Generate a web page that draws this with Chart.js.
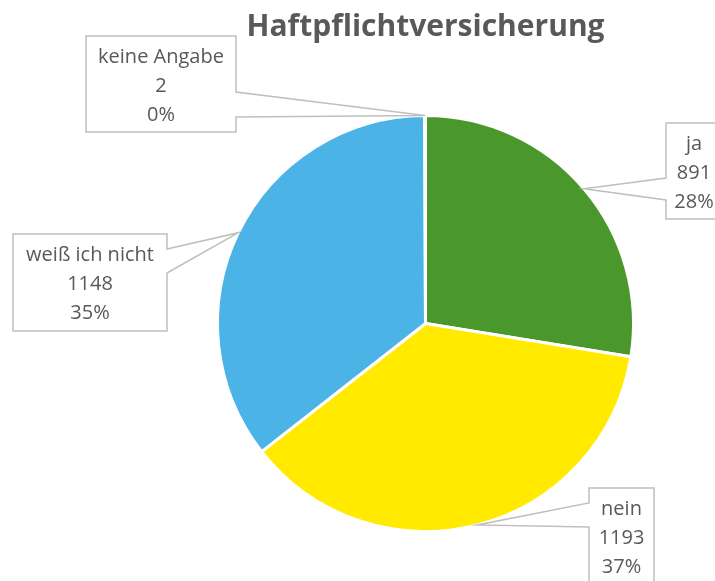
<!DOCTYPE html>
<html>
<head>
<meta charset="utf-8">
<script src="https://cdn.jsdelivr.net/npm/chart.js@4.4.0/dist/chart.umd.min.js"></script>
<style>
html,body{margin:0;padding:0;background:#fff;}
#wrap{width:715px;height:581px;position:relative;}
</style>
</head>
<body>
<div id="wrap"><canvas id="c" width="715" height="581"></canvas></div>
<script>
const title = 'Haftpflichtversicherung';
const categories = ['ja', 'nein', 'weiß ich nicht', 'keine Angabe'];
const values = [891, 1193, 1148, 2];
const sliceColors = ['#4a982c', '#ffea00', '#4cb3e6', '#a5a5a5'];

// callout box placement (style only)
const calloutBoxes = [
  {x: 666, y: 123, w: 56, h: 96, side: 'left', a1: 178, a2: 200},
  {x: 589, y: 488, w: 65, h: 110, side: 'left', a1: 503, a2: 527},
  {x: 13, y: 234, w: 154, h: 97, side: 'right', a1: 249, a2: 273},
  {x: 86, y: 36, w: 150, h: 96, side: 'right', a1: 92, a2: 117}
];

const calloutPlugin = {
  id: 'callouts',
  afterDatasetsDraw(chart) {
    const ctx = chart.ctx;
    const meta = chart.getDatasetMeta(0);
    const data = chart.data.datasets[0].data;
    const total = data.reduce((a, b) => a + b, 0);
    ctx.save();
    meta.data.forEach((arc, i) => {
      const p = arc.getProps(['x', 'y', 'startAngle', 'endAngle', 'outerRadius'], true);
      const mid = (p.startAngle + p.endAngle) / 2;
      const ax = p.x + Math.cos(mid) * p.outerRadius;
      const ay = p.y + Math.sin(mid) * p.outerRadius;
      const b = calloutBoxes[i];
      ctx.beginPath();
      if (b.side === 'right') {
        ctx.moveTo(b.x, b.y);
        ctx.lineTo(b.x + b.w, b.y);
        ctx.lineTo(b.x + b.w, b.a1);
        ctx.lineTo(ax, ay);
        ctx.lineTo(b.x + b.w, b.a2);
        ctx.lineTo(b.x + b.w, b.y + b.h);
        ctx.lineTo(b.x, b.y + b.h);
        ctx.closePath();
      } else {
        ctx.moveTo(b.x, b.y);
        ctx.lineTo(b.x + b.w, b.y);
        ctx.lineTo(b.x + b.w, b.y + b.h);
        ctx.lineTo(b.x, b.y + b.h);
        ctx.lineTo(b.x, b.a2);
        ctx.lineTo(ax, ay);
        ctx.lineTo(b.x, b.a1);
        ctx.closePath();
      }
      ctx.fillStyle = '#ffffff';
      ctx.fill();
      ctx.lineWidth = 1.5;
      ctx.strokeStyle = '#bfbfbf';
      ctx.stroke();
      const lines = [chart.data.labels[i], String(data[i]), Math.round(data[i] / total * 100) + '%'];
      ctx.fillStyle = '#595959';
      ctx.font = '20px "Open Sans", sans-serif';
      ctx.textAlign = 'center';
      ctx.textBaseline = 'middle';
      lines.forEach((t, k) => ctx.fillText(t, b.x + b.w / 2, b.y + 21 + k * 29));
    });
    ctx.restore();
  }
};

new Chart(document.getElementById('c'), {
  type: 'pie',
  data: {
    labels: categories,
    datasets: [{
      data: values,
      backgroundColor: sliceColors,
      borderColor: '#ffffff',
      borderWidth: 3,
      hoverOffset: 0,
      hoverBorderWidth: 3
    }]
  },
  options: {
    responsive: false,
    animation: false,
    events: [],
    layout: {padding: {left: 216, right: 80, top: 0, bottom: 48}},
    plugins: {
      legend: {display: false},
      tooltip: {enabled: false},
      title: {
        display: true,
        text: title,
        color: '#595959',
        font: {family: '"Open Sans", sans-serif', size: 30, weight: 'bold', lineHeight: 1.2},
        padding: {top: 9, bottom: 69}
      }
    }
  },
  plugins: [calloutPlugin]
});
</script>
</body>
</html>
